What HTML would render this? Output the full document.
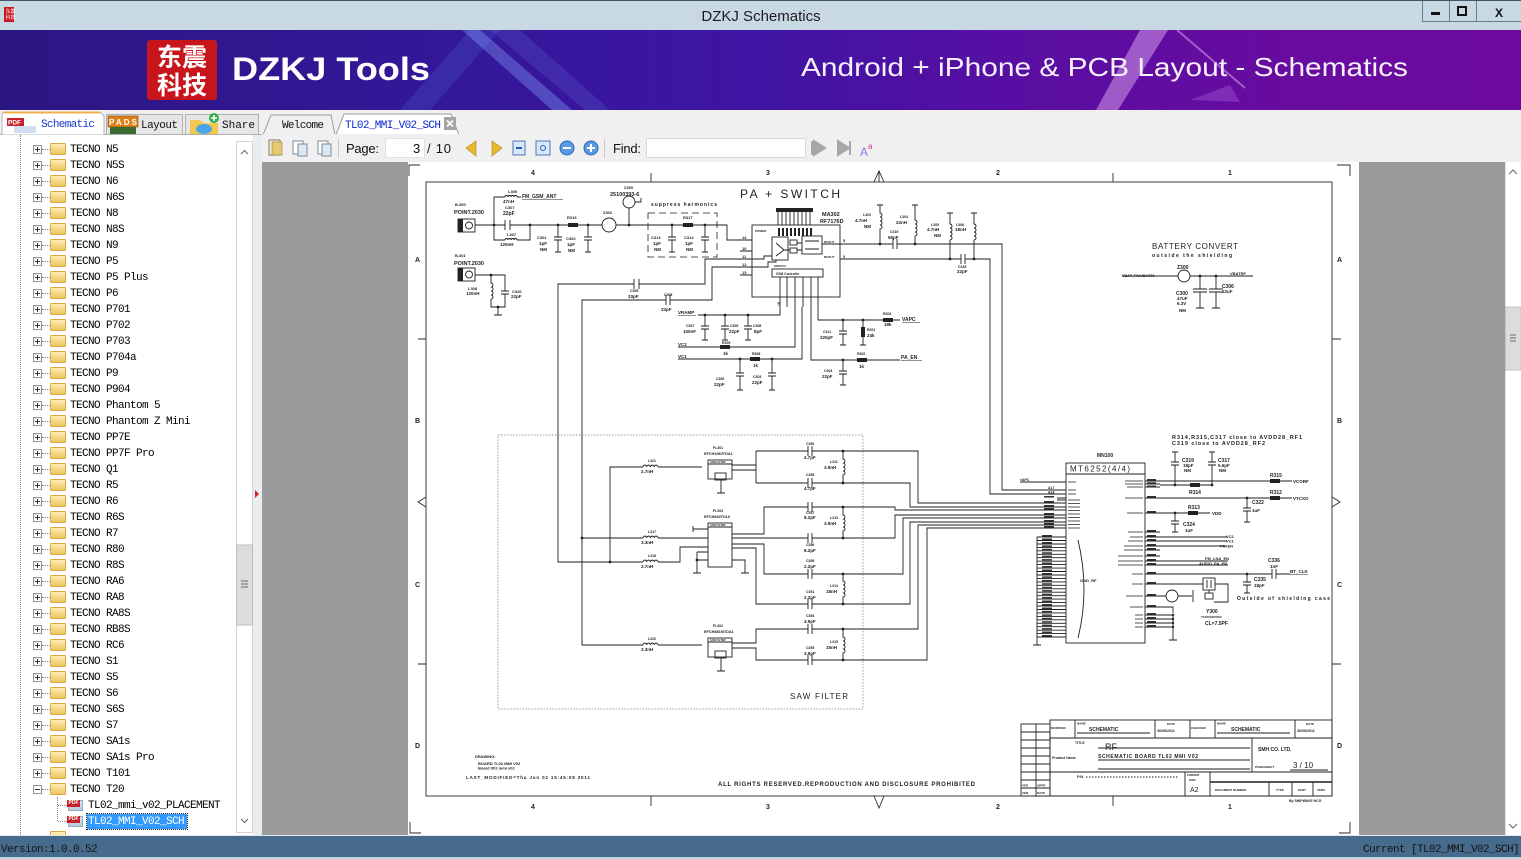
<!DOCTYPE html>
<html><head><meta charset="utf-8">
<style>
*{margin:0;padding:0;box-sizing:border-box}
body{width:1521px;height:859px;overflow:hidden;background:#f0f0f0;position:relative;font-family:"Liberation Sans",sans-serif}
.a{position:absolute}
.r{position:absolute;left:0;width:236px;height:16px}
.pb{position:absolute;left:33px;top:4px;width:9px;height:9px;border:1px solid #929292;background:#fff}
.pb::before{content:"";position:absolute;left:1px;top:3px;width:5px;height:1px;background:#333}
.pb.p::after{content:"";position:absolute;left:3px;top:1px;width:1px;height:5px;background:#333}
.dl{position:absolute;left:42px;top:8px;width:8px;border-top:1px dotted #888}
.fd{position:absolute;left:50px;top:2px;width:16px;height:12px;background:linear-gradient(#fdeeb8,#efc45e);border:1px solid #d8ab44;border-radius:1px}
.tx{position:absolute;left:70px;top:1px;font:11px/16px "Liberation Mono",monospace;letter-spacing:-0.6px;color:#000;white-space:pre}
.pdf{position:absolute;left:68px;top:3px;width:15px;height:11px;background:linear-gradient(#d9e6f3,#b7cce0);border:1px solid #9ab}
.pdf::before{content:"PDF";position:absolute;left:-2px;top:-1px;width:13px;height:7px;background:#c8202a;color:#fff;font:bold 5px/7px "Liberation Sans";text-align:center}
</style></head><body>

<!-- Title bar -->
<div class="a" style="left:0;top:0;width:1521px;height:30px;background:#c8d9e3;border-top:1px solid #42576a"></div>
<svg class="a" style="left:0;top:0" width="1521" height="30">
<rect x="4" y="7" width="10" height="15" fill="#c8161d"/>
<text x="5.5" y="13" font-size="5" fill="#fff" font-family="Noto Sans CJK SC,sans-serif">东震</text>
<text x="5.5" y="19" font-size="5" fill="#fff" font-family="Noto Sans CJK SC,sans-serif">科技</text>
<text x="761" y="21" font-size="15" fill="#1c1c1c" text-anchor="middle" font-family="Liberation Sans,sans-serif">DZKJ Schematics</text>
<path d="M1422.5,1V21.5H1521M1449.5,1V21.5M1476.5,1V21.5" stroke="#6a7a86" fill="none"/>
<rect x="1431" y="12" width="9" height="3" fill="#111"/>
<rect x="1458" y="7" width="8" height="8" fill="none" stroke="#111" stroke-width="2"/>
<text x="1499" y="17" font-size="12" font-weight="bold" fill="#111" text-anchor="middle" font-family="Liberation Sans,sans-serif">X</text>
</svg>

<!-- Banner -->
<svg class="a" style="left:0;top:30px" width="1521" height="80">
<defs><linearGradient id="bg" x1="0" x2="1" y1="0" y2="0">
<stop offset="0" stop-color="#2c1682"/><stop offset="0.3" stop-color="#33189a"/><stop offset="0.5" stop-color="#3f14a2"/><stop offset="0.68" stop-color="#5a0ea2"/><stop offset="0.85" stop-color="#680b9f"/><stop offset="1" stop-color="#6c0b9e"/></linearGradient></defs>
<rect width="1521" height="80" fill="url(#bg)"/>
<polygon points="400,80 470,0 500,0 430,80" fill="#4a60d8" opacity="0.25"/>
<polygon points="462,0 480,0 572,80 552,80" fill="#8aa8ff" opacity="0.35"/>
<polygon points="490,0 520,0 610,80 585,80" fill="#6d86f0" opacity="0.18"/>
<polygon points="1140,0 1168,0 1118,80 1096,80" fill="#e0a8f4" opacity="0.5"/>
<line x1="1177" y1="0" x2="1245" y2="58" stroke="#d8a0f0" stroke-width="2" opacity="0.55"/>
<polygon points="1190,70 1230,55 1240,72" fill="#b070e0" opacity="0.35"/>
<rect x="147" y="10" width="70" height="60" rx="3" fill="#c8151c"/>
<text x="182" y="36" font-size="25" font-weight="bold" fill="#fff" text-anchor="middle" font-family="Noto Sans CJK SC,sans-serif">东震</text>
<text x="182" y="64" font-size="25" font-weight="bold" fill="#fff" text-anchor="middle" font-family="Noto Sans CJK SC,sans-serif">科技</text>
<text x="232" y="50" font-size="32" font-weight="bold" fill="#fff" textLength="198" lengthAdjust="spacingAndGlyphs" font-family="Liberation Sans,sans-serif">DZKJ Tools</text>
<text x="801" y="46" font-size="26" fill="#f6f0fb" textLength="607" lengthAdjust="spacingAndGlyphs" font-family="Liberation Sans,sans-serif">Android + iPhone &amp; PCB Layout - Schematics</text>
</svg>

<!-- Tab row -->
<svg class="a" style="left:0;top:110px" width="1521" height="26" font-family="Liberation Mono,monospace">
<rect width="1521" height="26" fill="#f0f0f0"/>
<path d="M0,24.5H1521" stroke="#a8a8a8"/>
<path d="M2,25V5Q2,2 5,2H100L104,6V25Z" fill="#fff" stroke="#b5b5b5"/>
<path d="M4,2.5H100" stroke="#f0b048" stroke-width="2"/>
<rect x="3" y="25" width="100" height="2" fill="#fff"/>
<rect x="106.5" y="4.5" width="76" height="20" fill="#e6e6e6" stroke="#b0b0b0"/>
<rect x="185.5" y="4.5" width="73" height="20" fill="#e6e6e6" stroke="#b0b0b0"/>
<rect x="7" y="8" width="17" height="8" fill="#c8202a"/><text x="8" y="14.5" font-size="6.5" fill="#fff" font-family="Liberation Sans" font-weight="bold">PDF</text>
<rect x="14" y="16" width="22" height="7" fill="#cfdff0"/>
<text x="41" y="17" font-size="11" fill="#1836c8" textLength="54">Schematic</text>
<rect x="108" y="6" width="30" height="11" fill="#e0801a" stroke="#7a4a10" stroke-width="0.6"/><text x="109" y="15" font-size="8" fill="#fff" font-family="Liberation Sans" font-weight="bold" textLength="28">PADS</text>
<rect x="110" y="17" width="26" height="7" fill="#3a6a30"/>
<text x="141" y="18" font-size="11" fill="#111" textLength="37">Layout</text>
<path d="M190,10H200L203,13H218V24H190Z" fill="#f4c74e"/>
<ellipse cx="204" cy="19" rx="8" ry="5" fill="#4aa6e8"/>
<circle cx="214" cy="8" r="5" fill="#2fb04a"/><path d="M214,5V11M211,8H217" stroke="#fff" stroke-width="1.6"/>
<text x="222" y="18" font-size="11" fill="#111" textLength="33">Share</text>
<path d="M263,25L271,5H331L335,25" fill="#f0f0f0" stroke="#9a9a9a"/>
<text x="282" y="18" font-size="11" fill="#111" textLength="42">Welcome</text>
<path d="M336,25L344,4H451L459,25" fill="#fff" stroke="#9a9a9a"/>
<rect x="337" y="24" width="121" height="2" fill="#fff"/>
<text x="345" y="18" font-size="11" fill="#0a28cc" textLength="96">TL02_MMI_V02_SCH</text>
<rect x="444" y="7" width="12" height="13" fill="#a4a4a4"/>
<path d="M447,10.5L453,16.5M453,10.5L447,16.5" stroke="#fff" stroke-width="1.6"/>
</svg>

<!-- Toolbar -->
<svg class="a" style="left:262px;top:134px" width="1259" height="28" viewBox="262 134 1259 28" font-family="Liberation Sans,sans-serif">
<rect x="262" y="134" width="1259" height="28" fill="#f0f0f0"/>
<rect x="269" y="140" width="11" height="15" fill="#f5f0e0" stroke="#8a7a50"/><rect x="272" y="142" width="10" height="13" fill="#e8c870" stroke="#8a7a50" stroke-width="0.6"/>
<rect x="293" y="141" width="10" height="13" fill="#fff" stroke="#7a8a9a"/><rect x="298" y="144" width="9" height="12" fill="#dde8f0" stroke="#7a8a9a"/>
<rect x="318" y="141" width="10" height="13" fill="#fff" stroke="#7a8a9a"/><rect x="322" y="144" width="9" height="12" fill="#dde8f0" stroke="#7a8a9a"/>
<path d="M338.5,139V158M604.5,139V158" stroke="#c8c8c8"/>
<text x="346" y="153" font-size="13" fill="#111" textLength="33">Page:</text>
<rect x="385.5" y="138.5" width="39" height="19" fill="#fff" stroke="#e0e0e0"/>
<text x="413" y="153" font-size="13" fill="#111">3</text>
<text x="427" y="153" font-size="13" fill="#111" textLength="24">/ 10</text>
<path d="M476,141L466,148L476,156Z" fill="#e8b830" stroke="#b08410" stroke-width="0.6"/>
<path d="M492,141L502,148L492,156Z" fill="#e8b830" stroke="#b08410" stroke-width="0.6"/>
<rect x="513" y="141" width="12" height="14" fill="#d8e8f8" stroke="#4a7ac0"/><path d="M516,148H522" stroke="#2a5ab0" stroke-width="2"/>
<rect x="536" y="141" width="14" height="14" fill="#d8e8f8" stroke="#4a7ac0"/><circle cx="543" cy="148" r="2.5" fill="none" stroke="#2a5ab0"/>
<circle cx="567" cy="148" r="7" fill="#5a9ae0" stroke="#2a6ab8"/><path d="M563,148H571" stroke="#fff" stroke-width="2"/>
<circle cx="591" cy="148" r="7" fill="#5a9ae0" stroke="#2a6ab8"/><path d="M587,148H595M591,144V152" stroke="#fff" stroke-width="2"/>
<text x="613" y="153" font-size="13" fill="#111" textLength="28">Find:</text>
<rect x="646.5" y="138.5" width="159" height="19" fill="#fff" stroke="#d8d8d8"/>
<path d="M812,141V155M814,141V155L825,148Z" fill="#a8a8a8" stroke="#a8a8a8" stroke-width="2"/>
<path d="M838,141L849,148L838,155ZM850,141V155" fill="#a8a8a8" stroke="#a8a8a8" stroke-width="2"/>
<text x="860" y="156" font-size="12" fill="#8a7ae0">A</text><text x="868" y="149" font-size="8" fill="#d0309a">a</text>
</svg>

<!-- Left panel -->
<div class="a" style="left:0;top:135px;width:253px;height:700px;background:#fff;overflow:hidden">
<div class="a" style="left:20px;top:0;height:700px;border-left:1px dotted #888"></div>
<div class="a" style="left:57px;top:662px;height:24px;border-left:1px dotted #888"></div>
</div>
<div class="a" style="left:0;top:0;width:236px;height:835px;overflow:hidden">
<div class="r" style="top:141px"><i class="pb p"></i><i class="dl"></i><i class="fd"></i><span class="tx">TECNO N5</span></div>
<div class="r" style="top:157px"><i class="pb p"></i><i class="dl"></i><i class="fd"></i><span class="tx">TECNO N5S</span></div>
<div class="r" style="top:173px"><i class="pb p"></i><i class="dl"></i><i class="fd"></i><span class="tx">TECNO N6</span></div>
<div class="r" style="top:189px"><i class="pb p"></i><i class="dl"></i><i class="fd"></i><span class="tx">TECNO N6S</span></div>
<div class="r" style="top:205px"><i class="pb p"></i><i class="dl"></i><i class="fd"></i><span class="tx">TECNO N8</span></div>
<div class="r" style="top:221px"><i class="pb p"></i><i class="dl"></i><i class="fd"></i><span class="tx">TECNO N8S</span></div>
<div class="r" style="top:237px"><i class="pb p"></i><i class="dl"></i><i class="fd"></i><span class="tx">TECNO N9</span></div>
<div class="r" style="top:253px"><i class="pb p"></i><i class="dl"></i><i class="fd"></i><span class="tx">TECNO P5</span></div>
<div class="r" style="top:269px"><i class="pb p"></i><i class="dl"></i><i class="fd"></i><span class="tx">TECNO P5 Plus</span></div>
<div class="r" style="top:285px"><i class="pb p"></i><i class="dl"></i><i class="fd"></i><span class="tx">TECNO P6</span></div>
<div class="r" style="top:301px"><i class="pb p"></i><i class="dl"></i><i class="fd"></i><span class="tx">TECNO P701</span></div>
<div class="r" style="top:317px"><i class="pb p"></i><i class="dl"></i><i class="fd"></i><span class="tx">TECNO P702</span></div>
<div class="r" style="top:333px"><i class="pb p"></i><i class="dl"></i><i class="fd"></i><span class="tx">TECNO P703</span></div>
<div class="r" style="top:349px"><i class="pb p"></i><i class="dl"></i><i class="fd"></i><span class="tx">TECNO P704a</span></div>
<div class="r" style="top:365px"><i class="pb p"></i><i class="dl"></i><i class="fd"></i><span class="tx">TECNO P9</span></div>
<div class="r" style="top:381px"><i class="pb p"></i><i class="dl"></i><i class="fd"></i><span class="tx">TECNO P904</span></div>
<div class="r" style="top:397px"><i class="pb p"></i><i class="dl"></i><i class="fd"></i><span class="tx">TECNO Phantom 5</span></div>
<div class="r" style="top:413px"><i class="pb p"></i><i class="dl"></i><i class="fd"></i><span class="tx">TECNO Phantom Z Mini</span></div>
<div class="r" style="top:429px"><i class="pb p"></i><i class="dl"></i><i class="fd"></i><span class="tx">TECNO PP7E</span></div>
<div class="r" style="top:445px"><i class="pb p"></i><i class="dl"></i><i class="fd"></i><span class="tx">TECNO PP7F Pro</span></div>
<div class="r" style="top:461px"><i class="pb p"></i><i class="dl"></i><i class="fd"></i><span class="tx">TECNO Q1</span></div>
<div class="r" style="top:477px"><i class="pb p"></i><i class="dl"></i><i class="fd"></i><span class="tx">TECNO R5</span></div>
<div class="r" style="top:493px"><i class="pb p"></i><i class="dl"></i><i class="fd"></i><span class="tx">TECNO R6</span></div>
<div class="r" style="top:509px"><i class="pb p"></i><i class="dl"></i><i class="fd"></i><span class="tx">TECNO R6S</span></div>
<div class="r" style="top:525px"><i class="pb p"></i><i class="dl"></i><i class="fd"></i><span class="tx">TECNO R7</span></div>
<div class="r" style="top:541px"><i class="pb p"></i><i class="dl"></i><i class="fd"></i><span class="tx">TECNO R80</span></div>
<div class="r" style="top:557px"><i class="pb p"></i><i class="dl"></i><i class="fd"></i><span class="tx">TECNO R8S</span></div>
<div class="r" style="top:573px"><i class="pb p"></i><i class="dl"></i><i class="fd"></i><span class="tx">TECNO RA6</span></div>
<div class="r" style="top:589px"><i class="pb p"></i><i class="dl"></i><i class="fd"></i><span class="tx">TECNO RA8</span></div>
<div class="r" style="top:605px"><i class="pb p"></i><i class="dl"></i><i class="fd"></i><span class="tx">TECNO RA8S</span></div>
<div class="r" style="top:621px"><i class="pb p"></i><i class="dl"></i><i class="fd"></i><span class="tx">TECNO RB8S</span></div>
<div class="r" style="top:637px"><i class="pb p"></i><i class="dl"></i><i class="fd"></i><span class="tx">TECNO RC6</span></div>
<div class="r" style="top:653px"><i class="pb p"></i><i class="dl"></i><i class="fd"></i><span class="tx">TECNO S1</span></div>
<div class="r" style="top:669px"><i class="pb p"></i><i class="dl"></i><i class="fd"></i><span class="tx">TECNO S5</span></div>
<div class="r" style="top:685px"><i class="pb p"></i><i class="dl"></i><i class="fd"></i><span class="tx">TECNO S6</span></div>
<div class="r" style="top:701px"><i class="pb p"></i><i class="dl"></i><i class="fd"></i><span class="tx">TECNO S6S</span></div>
<div class="r" style="top:717px"><i class="pb p"></i><i class="dl"></i><i class="fd"></i><span class="tx">TECNO S7</span></div>
<div class="r" style="top:733px"><i class="pb p"></i><i class="dl"></i><i class="fd"></i><span class="tx">TECNO SA1s</span></div>
<div class="r" style="top:749px"><i class="pb p"></i><i class="dl"></i><i class="fd"></i><span class="tx">TECNO SA1s Pro</span></div>
<div class="r" style="top:765px"><i class="pb p"></i><i class="dl"></i><i class="fd"></i><span class="tx">TECNO T101</span></div>
<div class="r" style="top:781px"><i class="pb"></i><i class="dl"></i><i class="fd"></i><span class="tx">TECNO T20</span></div>
<div class="r" style="top:797px"><i class="a" style="left:58px;top:8px;width:9px;border-top:1px dotted #888"></i><i class="pdf"></i><span class="tx" style="left:88px">TL02_mmi_v02_PLACEMENT</span></div>
<div class="r" style="top:813px"><i class="a" style="left:58px;top:8px;width:9px;border-top:1px dotted #888"></i><i class="pdf"></i><span class="a" style="left:87px;top:1px;width:100px;height:15px;background:#3399ff;outline:1px dotted #222"></span><span class="tx" style="left:88px;color:#fff">TL02_MMI_V02_SCH</span></div>
<div class="r" style="top:829px"><i class="fd"></i></div>
</div>
<!-- left scrollbar -->
<div class="a" style="left:236px;top:141px;width:17px;height:692px;background:#fff;border:1px solid #d4d4d4"></div>
<svg class="a" style="left:236px;top:141px" width="17" height="692">
<path d="M5,13L8.5,9.5L12,13M5,678L8.5,681.5L12,678" stroke="#666" fill="none"/>
<rect x="0.5" y="404" width="16" height="80" fill="#dcdcdc" stroke="#bdbdbd"/>
<path d="M5,440H12M5,443H12M5,446H12" stroke="#666"/>
</svg>
<!-- splitter -->
<div class="a" style="left:253px;top:135px;width:9px;height:701px;background:#e9edf0"></div>
<svg class="a" style="left:253px;top:489px" width="9" height="10"><path d="M2,1L6,5L2,9Z" fill="#d8202a"/></svg>

<!-- Viewer -->
<div class="a" style="left:262px;top:162px;width:1243px;height:673px;background:#9b9b9b"></div>
<div class="a" style="left:1505px;top:162px;width:16px;height:673px;background:#fff;border-left:1px solid #e0e0e0"></div>
<svg class="a" style="left:1505px;top:162px" width="16" height="673">
<path d="M4,12L8,8L12,12M4,662L8,666L12,662" stroke="#666" fill="none"/>
<rect x="0.5" y="145" width="15.5" height="63" fill="#dcdcdc" stroke="#c4c4c4"/>
<path d="M5,173H11M5,176H11M5,179H11" stroke="#666"/>
</svg>

<!-- Schematic page -->
<svg class="a" style="left:408px;top:162px" width="951" height="673" viewBox="408 162 951 673" font-family="Liberation Sans,sans-serif">
<rect x="408" y="162" width="951" height="673" fill="#fff"/>
<g fill="none" stroke="#2a2a2a" stroke-width="0.9">
<path d="M409,176V165H420M1337,165H1350V176M410,822V833H421M1339,833H1350V822"/>
<rect x="426" y="182" width="906" height="614"/>
<path d="M651,173V182M1113,173V182M874,182L879,171L884,182M879,171V182"/>
<path d="M651,796V806M1113,796V806M874,796L879,808L884,796"/>
<path d="M418,339H426M418,664H426M426,497L418,502L426,507M1332,339H1341M1332,664H1341M1332,497L1340,502L1332,507"/>
</g>
<g font-size="7" fill="#222" font-weight="bold">
<text x="531" y="175">4</text><text x="766" y="175">3</text><text x="996" y="175">2</text><text x="1228" y="175">1</text>
<text x="531" y="809">4</text><text x="766" y="809">3</text><text x="996" y="809">2</text><text x="1228" y="809">1</text>
<text x="415" y="262">A</text><text x="415" y="423">B</text><text x="415" y="587">C</text><text x="415" y="748">D</text>
<text x="1337" y="262">A</text><text x="1337" y="423">B</text><text x="1337" y="587">C</text><text x="1337" y="748">D</text>
</g>

<!-- wires -->
<g fill="none" stroke="#1e1e1e" stroke-width="0.9">
<rect x="458" y="219" width="17" height="13"/>
<rect x="458" y="268" width="17" height="13"/>
<circle cx="469" cy="225.5" r="3.5"/><circle cx="469" cy="274.5" r="3.5"/>
<path d="M475,225H505M510,225H602M616,225H727V240H752M505,220V230M510,220V230"/>
<circle cx="609" cy="225" r="7"/>
<path d="M494,225V197H505M517,197H521M505,197a1.5,1.5 0 0 1 3,0a1.5,1.5 0 0 1 3,0a1.5,1.5 0 0 1 3,0a1.5,1.5 0 0 1 3,0"/>
<path d="M494,225V240H505M517,240H530V225M505,240a1.5,1.5 0 0 1 3,0a1.5,1.5 0 0 1 3,0a1.5,1.5 0 0 1 3,0a1.5,1.5 0 0 1 3,0"/>
<path d="M475,275H505V291M501,291H509M501,294H509M505,294V307H491V299M491,275V283a2,2 0 0 1 0,4a2,2 0 0 1 0,4a2,2 0 0 1 0,4a2,2 0 0 1 0,4M498,307V315M494,315H502"/>
<path d="M558,225V237M554,237H562M554,240H562M558,240V252M555,252H561"/>
<path d="M588,225V237M584,237H592M584,240H592M588,240V252M585,252H591"/>
<path d="M672,225V237M668,237H676M668,240H676M672,240V252M669,252H675"/>
<path d="M705,225V237M701,237H709M701,240H709M705,240V252M702,252H708"/>
<circle cx="629" cy="202" r="6"/><path d="M629,208V225M635,202H641V198"/>
<rect x="648" y="213" width="69" height="44" stroke-dasharray="7,4" stroke-width="0.8"/>
<!-- chip -->
<rect x="752" y="225" width="88" height="72"/>
<path d="M778,212V225M782,212V225M786,212V225M790,212V225M794,212V225M798,212V225M802,212V225M806,212V225M810,212V225"/>
<rect x="772" y="237" width="16" height="23"/><path d="M776,243L784,250M776,256L784,250M784,250H790"/>
<rect x="790" y="240" width="7" height="5"/><rect x="790" y="248" width="7" height="5"/>
<rect x="802" y="236" width="20" height="18"/><path d="M805,241H819M805,249H819M822,244H840M797,243H802M797,250H802"/>
<rect x="772" y="269" width="51" height="8"/>
<path d="M740,240H752M740,251H752M740,259H752M740,267H752M740,275H752M840,244H852M840,259H852M752,259H764V256H772M752,267H768V262H776V260"/>
<path d="M780,277V307M787,277V307M795,277V307M803,277V307M811,277V307M818,277V307"/>
<!-- pin5/3 outputs -->
<path d="M852,244H893M897,244H1002V490H1066M893,239V249M897,239V249"/>
<path d="M852,259H961M965,259H990V494H1066M961,254V264M965,254V264"/>
<path d="M880,205V213a2,2 0 0 1 0,4a2,2 0 0 1 0,4a2,2 0 0 1 0,4a2,2 0 0 1 0,4V244M877,205H883"/>
<path d="M915,205V220a2,2 0 0 1 0,4a2,2 0 0 1 0,4a2,2 0 0 1 0,4a2,2 0 0 1 0,4V244M912,205H918"/>
<path d="M950,213V224a2,2 0 0 1 0,4a2,2 0 0 1 0,4a2,2 0 0 1 0,4a2,2 0 0 1 0,4V259M947,213H953"/>
<path d="M974,213V224a2,2 0 0 1 0,4a2,2 0 0 1 0,4a2,2 0 0 1 0,4a2,2 0 0 1 0,4V259M971,213H977"/>
<!-- pin 11 / 12 -->
<path d="M740,259H705V284H639M634,284H558V562H643M658,562H680V547H708M634,279V289M639,279V289"/>
<path d="M740,267H712V300H670M666,300H582V645H643M658,645H702M666,295V305M670,295V305"/>
<path d="M582,538H643M658,538H708M610,562V467H643M658,467H702"/>
<path d="M643,467a1.875,1.875 0 0 1 3.75,0a1.875,1.875 0 0 1 3.75,0a1.875,1.875 0 0 1 3.75,0a1.875,1.875 0 0 1 3.75,0"/>
<path d="M643,538a1.875,1.875 0 0 1 3.75,0a1.875,1.875 0 0 1 3.75,0a1.875,1.875 0 0 1 3.75,0a1.875,1.875 0 0 1 3.75,0"/>
<path d="M643,562a1.875,1.875 0 0 1 3.75,0a1.875,1.875 0 0 1 3.75,0a1.875,1.875 0 0 1 3.75,0a1.875,1.875 0 0 1 3.75,0"/>
<path d="M643,645a1.875,1.875 0 0 1 3.75,0a1.875,1.875 0 0 1 3.75,0a1.875,1.875 0 0 1 3.75,0a1.875,1.875 0 0 1 3.75,0"/>
<!-- bottom pins -->
<path d="M780,307V315H698"/>
<path d="M705,315V326M701,326H709M701,329H709M705,329V340M702,340H708"/>
<path d="M725,315V326M721,326H729M721,329H729M725,329V340M722,340H728"/>
<path d="M748,315V326M744,326H752M744,329H752M748,329V340M745,340H751"/>
<path d="M795,307V347H678M802,307V359H678"/>
<path d="M740,359V373M736,373H744M736,376H744M740,376V390M737,390H743"/>
<path d="M772,359V373M768,373H776M768,376H776M772,376V390M769,390H775"/>
<path d="M811,307V360H900M818,307V320H900"/>
<path d="M843,320V331M839,331H847M839,334H847M843,334V345M840,345H846"/>
<path d="M863,320V345M860,345H866"/>
<path d="M843,360V371M839,371H847M839,374H847M843,374V385M840,385H846"/>
<!-- battery -->
<path d="M1122,276H1178M1190,276H1253"/><circle cx="1184" cy="276" r="6"/>
<path d="M1200,276V289M1193,289H1207M1193,292H1207M1200,292V308M1196,308H1204"/>
<path d="M1216,276V289M1209,289H1223M1209,292H1223M1216,292V308M1212,308H1220"/>
<!-- SAW -->
<rect x="498" y="435" width="365" height="274" stroke="#777" stroke-width="0.7" stroke-dasharray="1.5,1.5"/>
<rect x="708" y="460" width="24" height="19"/><path d="M708,464H732"/><rect x="715" y="473" width="11" height="7"/><path d="M721,480V493M717,493H725"/>
<rect x="708" y="523" width="24" height="44"/><path d="M708,527H732"/>
<rect x="708" y="638" width="24" height="19"/><path d="M708,642H732"/><rect x="715" y="651" width="11" height="7"/><path d="M721,658V671M717,671H725"/>
<path d="M693,529H708M693,526V532M697,552H708M697,560H708M697,552V573M693,573H701M732,560H745V573M741,573H749"/>
<path d="M732,465H756M732,470H756M756,451V483"/>
<path d="M756,451H808M812,451H918V503H1066M808,446V456M812,446V456"/>
<path d="M756,483H808M812,483H910V507H1066M808,478V488M812,478V488"/>
<path d="M732,534H764V507H808M812,507H895V510H1066M808,502V512M812,502V512"/>
<path d="M732,538H808M812,538H895V515H1066M808,533V543M812,533V543"/>
<path d="M732,544H764V574H808M812,574H903V518H1066M808,569V579M812,569V579"/>
<path d="M732,548H756V604H808M812,604H910V522H1066M808,599V609M812,599V609"/>
<path d="M732,643H756V629H808M812,629H918V525H1066M808,624V634M812,624V634"/>
<path d="M732,648H756V660H808M812,660H927V528H1066M808,655V665M812,655V665"/>
<path d="M843,451V459a2,2 0 0 1 0,4a2,2 0 0 1 0,4a2,2 0 0 1 0,4a2,2 0 0 1 0,4V483"/>
<path d="M843,507V515a2,2 0 0 1 0,4a2,2 0 0 1 0,4a2,2 0 0 1 0,4a2,2 0 0 1 0,4V538"/>
<path d="M843,574V581a2,2 0 0 1 0,4a2,2 0 0 1 0,4a2,2 0 0 1 0,4a2,2 0 0 1 0,4V604"/>
<path d="M843,629V637a2,2 0 0 1 0,4a2,2 0 0 1 0,4a2,2 0 0 1 0,4a2,2 0 0 1 0,4V660"/>
<!-- MT6252 -->
<rect x="1066" y="463" width="79" height="180"/><path d="M1066,474H1145"/>
<path d="M1020,482H1066M1057,498H1066M1057,500H1066"/>
<path d="M1037,537V645M1033,645H1041M1037,537H1066M1037,540.5H1066M1037,544H1066M1037,547.4H1066M1037,550.8H1066M1037,554.3H1066M1037,557.7H1066M1037,561.2H1066M1037,564.6H1066M1037,568.1H1066M1037,571.5H1066M1037,575H1066M1037,578.4H1066M1037,581.9H1066M1037,585.3H1066M1037,588.8H1066M1037,592.2H1066M1037,595.7H1066M1037,599.1H1066M1037,602.6H1066M1037,606H1066M1037,609.5H1066M1037,612.9H1066M1037,616.4H1066M1037,619.8H1066M1037,623.3H1066M1037,626.7H1066M1037,630.2H1066M1037,633.6H1066M1037,637H1066"/>
<path d="M1078,540Q1090,590 1078,638"/>
<path d="M1145,481H1292M1145,484H1160M1145,487H1160M1160,485H1212M1175,452V462M1171,462H1179M1171,465H1179M1175,465V485M1212,452V462M1208,462H1216M1208,465H1216M1212,465V485M1172,452H1178M1209,452H1215"/>
<path d="M1145,498H1292M1247,498V508M1243,508H1251M1243,511H1251M1247,511V522M1244,522H1250"/>
<path d="M1145,513H1210M1175,513V521M1171,521H1179M1171,524H1179M1175,524V532M1172,532H1178"/>
<path d="M1145,532H1160M1145,537H1227M1145,541H1227M1145,546H1227M1145,550H1160M1145,556H1160M1145,561H1228M1145,565H1228"/>
<path d="M1145,574H1272M1276,574H1290M1272,569V579M1276,569V579M1247,574V582M1243,582H1251M1243,585H1251M1247,585V593M1244,593H1250"/>
<path d="M1145,584H1203M1215,584H1228V602H1214M1209,590V593"/><rect x="1203" y="578" width="12" height="12"/><path d="M1207,580V588M1211,580V588"/><rect x="1205" y="593" width="8" height="6"/>
<path d="M1145,596H1166M1178,596H1192M1193,590V602"/><circle cx="1172" cy="596" r="6"/>
<path d="M1145,607H1173V613M1145,615H1173M1145,619H1173M1145,623H1173M1145,627H1173M1173,615V640M1169,640H1177"/>
<!-- title block -->
<rect x="1021" y="724" width="29" height="72"/>
<path d="M1036,724V796M1021,732H1050M1021,740H1050M1021,748H1050M1021,756H1050M1021,764H1050M1021,772H1050M1021,780H1050M1021,788H1050"/>
<rect x="1050" y="720" width="282" height="76"/>
<path d="M1050,738H1332M1050,772H1332M1075,720V738M1155,720V738M1190,720V738M1215,720V738M1295,720V738M1252,738V772"/>
<path d="M1077,733H1150M1217,733H1290M1098,748H1250M1098,760H1250M1098,769H1250M1290,770H1328"/>
<path d="M1185,772V796M1210,772V796M1269,782V796M1292,782V796M1313,782V796"/>
<path d="M1210,782H1332" stroke-width="1.6"/>
<path d="M1086,777H1178" stroke-dasharray="1.5,1.5"/>
</g>
<!-- filled bits -->
<g fill="#222">
<rect x="458" y="219" width="5" height="13"/><rect x="458" y="268" width="5" height="13"/>
<rect x="568" y="223" width="10" height="4"/><rect x="683" y="223" width="10" height="4"/>
<rect x="776" y="208" width="37" height="4"/>
<rect x="778" y="228" width="2" height="8"/><rect x="782" y="228" width="2" height="8"/><rect x="786" y="228" width="2" height="8"/><rect x="790" y="228" width="2" height="8"/><rect x="794" y="228" width="2" height="8"/><rect x="798" y="228" width="2" height="8"/><rect x="802" y="228" width="2" height="8"/><rect x="806" y="228" width="2" height="8"/><rect x="810" y="228" width="2" height="8"/>
<rect x="720" y="345" width="10" height="4"/><rect x="750" y="357" width="10" height="4"/><rect x="857" y="358" width="10" height="4"/>
<rect x="861" y="327" width="4" height="10"/><rect x="883" y="318" width="10" height="4"/>
<rect x="1270" y="479" width="10" height="4"/><rect x="1190" y="483" width="10" height="4"/><rect x="1270" y="496" width="10" height="4"/><rect x="1188" y="511" width="10" height="4"/>
<circle cx="494" cy="225" r="1.4"/><circle cx="530" cy="225" r="1.4"/><circle cx="558" cy="225" r="1.4"/><circle cx="588" cy="225" r="1.4"/><circle cx="629" cy="225" r="1.4"/><circle cx="672" cy="225" r="1.4"/><circle cx="705" cy="225" r="1.4"/><circle cx="491" cy="275" r="1.4"/><circle cx="498" cy="307" r="1.4"/>
<circle cx="880" cy="244" r="1.4"/><circle cx="915" cy="244" r="1.4"/><circle cx="950" cy="259" r="1.4"/><circle cx="974" cy="259" r="1.4"/>
<circle cx="705" cy="315" r="1.4"/><circle cx="725" cy="315" r="1.4"/><circle cx="748" cy="315" r="1.4"/><circle cx="740" cy="359" r="1.4"/><circle cx="772" cy="359" r="1.4"/><circle cx="843" cy="320" r="1.4"/><circle cx="863" cy="320" r="1.4"/><circle cx="843" cy="360" r="1.4"/>
<circle cx="1200" cy="276" r="1.4"/><circle cx="1216" cy="276" r="1.4"/>
<circle cx="582" cy="538" r="1.4"/><circle cx="610" cy="562" r="1.4"/><circle cx="697" cy="560" r="1.4"/>
<circle cx="843" cy="451" r="1.4"/><circle cx="843" cy="483" r="1.4"/><circle cx="843" cy="507" r="1.4"/><circle cx="843" cy="538" r="1.4"/><circle cx="843" cy="574" r="1.4"/><circle cx="843" cy="604" r="1.4"/><circle cx="843" cy="629" r="1.4"/><circle cx="843" cy="660" r="1.4"/>
<circle cx="1175" cy="485" r="1.4"/><circle cx="1212" cy="485" r="1.4"/><circle cx="1247" cy="498" r="1.4"/><circle cx="1175" cy="513" r="1.4"/><circle cx="1247" cy="574" r="1.4"/><circle cx="1173" cy="615" r="1.2"/><circle cx="1173" cy="619" r="1.2"/><circle cx="1173" cy="623" r="1.2"/><circle cx="1173" cy="627" r="1.2"/>
</g>
<g stroke="#333" stroke-width="1.5" fill="none">
<path d="M1042,535.7h10M1042,539.2h10M1042,542.7h10M1042,546.1h10M1042,549.5h10M1042,553h10M1042,556.4h10M1042,559.9h10M1042,563.3h10M1042,566.8h10M1042,570.2h10M1042,573.7h10M1042,577.1h10M1042,580.6h10M1042,584h10M1042,587.5h10M1042,590.9h10M1042,594.4h10M1042,597.8h10M1042,601.3h10M1042,604.7h10M1042,608.2h10M1042,611.6h10M1042,615.1h10M1042,618.5h10M1042,622h10M1042,625.4h10M1042,628.9h10M1042,632.3h10M1042,635.7h10"/>
<path d="M1044,496.7h10M1044,501.7h10M1044,505.7h10M1044,508.7h10M1044,513.7h10M1044,516.7h10M1044,520.7h10M1044,523.7h10M1044,526.7h10"/>
<path d="M1147,479.8h9M1147,483h9M1147,486.2h9M1147,496.8h9M1147,511.8h9M1147,530.8h9M1147,535.8h9M1147,539.8h9M1147,544.8h9M1147,548.8h9M1147,554.8h9M1147,559.8h9M1147,563.8h9M1147,572.8h9M1147,582.8h9M1147,594.8h9M1147,605.8h9M1147,613.8h9M1147,617.8h9M1147,621.8h9M1147,625.8h9"/>
</g>
<g stroke="#555" stroke-width="1" fill="none">
<path d="M1125,481h18M1125,484h18M1127,487h16M1125,498h18M1127,513h16M1128,532h15M1130,537h13M1128,541h15M1124,546h19M1124,550h19M1118,556h25M1118,561h25M1118,565h25M1132,574h11M1132,584h11M1126,596h17M1130,607h13M1135,615h8M1135,619h8M1135,623h8M1135,627h8"/>
<path d="M1068,482h8M1068,490h8M1068,494h8M1068,500h12M1068,503.5h12M1068,507h12M1068,510.5h12M1068,514h12M1068,517.5h12M1068,521h12M1068,524.5h12M1068,528h12"/>
</g>
<!-- labels -->
<g font-size="4.5" fill="#222" font-weight="bold">
<text x="455" y="206" font-size="4">B.300</text><text x="454" y="214" font-size="5.5">POINT.2030</text>
<text x="455" y="257" font-size="4">B.301</text><text x="454" y="265" font-size="5.5">POINT.2030</text>
<text x="522" y="198" font-size="5">FM_GSM_ANT</text>
<text x="508" y="193" font-size="4">L300</text><text x="503" y="203">47nH</text>
<text x="505" y="209" font-size="4">C307</text><text x="503" y="215" font-size="5">22pF</text>
<text x="507" y="236" font-size="4">L307</text><text x="500" y="246">120nH</text>
<text x="468" y="290" font-size="4">L308</text><text x="466" y="295">120nH</text>
<text x="512" y="293" font-size="4">C320</text><text x="511" y="298">22pF</text>
<text x="537" y="239" font-size="4">C301</text><text x="539" y="245">1pF</text><text x="540" y="251">NM</text>
<text x="567" y="219" font-size="4">R316</text>
<text x="566" y="240" font-size="4">C302</text><text x="567" y="246">1pF</text><text x="568" y="252">NM</text>
<text x="603" y="214" font-size="4">Z302</text>
<text x="624" y="189" font-size="4">Z300</text><text x="610" y="196" font-size="5.5">25100393-6</text>
<text x="651" y="206" font-size="5" textLength="66">suppress harmonics</text>
<text x="651" y="239" font-size="4">C313</text><text x="653" y="245">1pF</text><text x="654" y="251">NM</text>
<text x="683" y="219" font-size="4">R317</text>
<text x="684" y="239" font-size="4">C314</text><text x="685" y="245">1pF</text><text x="686" y="251">NM</text>
<text x="822" y="216" font-size="5.5">MA302</text><text x="820" y="223" font-size="5.5">RF7176D</text>
<text x="742" y="239" font-size="4">14</text><text x="742" y="250" font-size="4">10</text><text x="742" y="258" font-size="4">11</text><text x="742" y="266" font-size="4">12</text><text x="742" y="274" font-size="4">13</text>
<text x="843" y="242" font-size="4">5</text><text x="843" y="258" font-size="4">3</text>
<text x="776" y="275" font-size="3.2">GSM Controller</text>
<text x="755" y="232" font-size="3">POWER</text><text x="774" y="267" font-size="3">SWITCH</text>
<text x="824" y="243" font-size="3">RFOUT</text><text x="824" y="258" font-size="3">RFOUT</text>
<text x="780" y="306" font-size="3.5" transform="rotate(-90 780 306)">16</text>
<text x="678" y="314">VRAMP</text>
<text x="686" y="327" font-size="3.5">C307</text><text x="683" y="333">100nF</text>
<text x="730" y="327" font-size="3.5">C309</text><text x="729" y="333">22pF</text>
<text x="753" y="327" font-size="3.5">C308</text><text x="754" y="333">8pF</text>
<text x="678" y="346">VC2</text><text x="722" y="344" font-size="3.5">R309</text><text x="723" y="355">1k</text>
<text x="678" y="358">VC1</text><text x="752" y="355" font-size="3.5">R308</text><text x="753" y="367">1k</text>
<text x="716" y="380" font-size="3.5">C300</text><text x="714" y="386">22pF</text>
<text x="753" y="378" font-size="3.5">C303</text><text x="752" y="384">22pF</text>
<text x="823" y="333" font-size="3.5">C311</text><text x="820" y="339">220pF</text>
<text x="867" y="331" font-size="3.5">R301</text><text x="867" y="337">24k</text>
<text x="883" y="315" font-size="3.5">R304</text><text x="884" y="326">18k</text>
<text x="902" y="321" font-size="5">VAPC</text>
<text x="857" y="355" font-size="3.5">R302</text><text x="859" y="368">1k</text>
<text x="824" y="372" font-size="3.5">C304</text><text x="822" y="378">22pF</text>
<text x="901" y="359" font-size="5">PA_EN</text>
<text x="630" y="292" font-size="3.5">C305</text><text x="628" y="298">33pF</text>
<text x="664" y="296" font-size="3.5">C306</text><text x="661" y="311">33pF</text>
<text x="863" y="216" font-size="3.5">L303</text><text x="855" y="222">4.7nH</text><text x="864" y="228">NM</text>
<text x="890" y="233" font-size="3.5">C319</text><text x="888" y="239">56pF</text>
<text x="900" y="218" font-size="3.5">L304</text><text x="896" y="224">22nH</text>
<text x="931" y="226" font-size="3.5">L305</text><text x="927" y="231">4.7nH</text><text x="934" y="237">NM</text>
<text x="956" y="226" font-size="3.5">L306</text><text x="955" y="231">18nH</text>
<text x="958" y="268" font-size="3.5">C318</text><text x="957" y="273">22pF</text>
<text x="1122" y="277" font-size="3.8">VBAT_PA/VBAT00</text><text x="1177" y="269" font-size="5">Z300</text><text x="1230" y="275" font-size="4">VBATRF</text>
<text x="1176" y="295" font-size="5">C300</text><text x="1177" y="300">47uF</text><text x="1177" y="305">6.3V</text><text x="1179" y="312">NM</text>
<text x="1222" y="288" font-size="5">C306</text><text x="1222" y="293">22uF</text>
<text x="648" y="462" font-size="3.5">L321</text><text x="641" y="473">2.7nH</text>
<text x="648" y="533" font-size="3.5">L317</text><text x="641" y="544">3.3nH</text>
<text x="648" y="557" font-size="3.5">L318</text><text x="641" y="568">2.7nH</text>
<text x="648" y="640" font-size="3.5">L322</text><text x="641" y="651">3.3nH</text>
<text x="713" y="449" font-size="3.5">FL301</text><text x="704" y="455" font-size="3.8">EFCH1960TDA1</text>
<text x="713" y="512" font-size="3.5">FL303</text><text x="704" y="518" font-size="3.8">EFCH840TDL6</text>
<text x="713" y="627" font-size="3.5">FL302</text><text x="704" y="633" font-size="3.8">EFCH881MTDA1</text>
<text x="710" y="463" font-size="2.6">SAW FILTER</text><text x="710" y="526" font-size="2.6">SAW FILTER</text><text x="710" y="641" font-size="2.6">SAW FILTER</text>
<text x="806" y="445" font-size="3.5">C350</text><text x="804" y="459">4.7pF</text>
<text x="830" y="463" font-size="3.5">L311</text><text x="824" y="469">3.9nH</text>
<text x="806" y="476" font-size="3.5">C358</text><text x="804" y="490">4.7pF</text>
<text x="806" y="514" font-size="3.5">C357</text><text x="804" y="519">8.2pF</text>
<text x="830" y="519" font-size="3.5">L313</text><text x="824" y="525">3.9nH</text>
<text x="806" y="546" font-size="3.5">C356</text><text x="804" y="552">8.2pF</text>
<text x="806" y="562" font-size="3.5">C359</text><text x="804" y="568">2.2pF</text>
<text x="830" y="587" font-size="3.5">L314</text><text x="826" y="593">18nH</text>
<text x="806" y="593" font-size="3.5">C351</text><text x="804" y="599">2.2pF</text>
<text x="806" y="617" font-size="3.5">C354</text><text x="804" y="623">3.9pF</text>
<text x="830" y="643" font-size="3.5">L315</text><text x="826" y="649">15nH</text>
<text x="806" y="649" font-size="3.5">C355</text><text x="804" y="655">3.9pF</text>
<text x="1097" y="457" font-size="5">MN100</text>
<text x="1020" y="481" font-size="3.5">vAPC</text><text x="1048" y="489" font-size="3.5">A17</text><text x="1048" y="493.5" font-size="3.5">A16</text>
<text x="1080" y="582" font-size="4">GND_RF</text>
<text x="1293" y="483" font-size="4.5">VCORF</text><text x="1270" y="477" font-size="5">R315</text>
<text x="1293" y="500" font-size="4.5">VTCXO</text><text x="1270" y="494" font-size="5">R312</text>
<text x="1189" y="494" font-size="5">R314</text>
<text x="1182" y="462" font-size="5">C319</text><text x="1183" y="467">18pF</text><text x="1184" y="472">NM</text>
<text x="1218" y="462" font-size="5">C317</text><text x="1218" y="467">5.6pF</text><text x="1219" y="472">NM</text>
<text x="1252" y="504" font-size="5">C322</text><text x="1252" y="512">1uF</text>
<text x="1188" y="509" font-size="5">R313</text><text x="1212" y="515">VDD</text>
<text x="1183" y="526" font-size="5">C324</text><text x="1185" y="532">1uF</text>
<text x="1226" y="538" font-size="4">VC2</text><text x="1226" y="542.5" font-size="4">VC1</text><text x="1220" y="547.5" font-size="4">PA_EN</text>
<text x="1205" y="560" font-size="4">FM_LNA_EN</text><text x="1199" y="565" font-size="4">AUDIO_PA_EN</text>
<text x="1268" y="562" font-size="5">C336</text><text x="1270" y="568">1nF</text>
<text x="1290" y="573" font-size="4.5">BT_CLK</text>
<text x="1254" y="581" font-size="5">C335</text><text x="1254" y="587">18pF</text>
<text x="1237" y="600" font-size="5" textLength="93">Outside of shielding case</text>
<text x="1206" y="613" font-size="5">Y300</text><text x="1201" y="618" font-size="3">TFX000000000</text><text x="1205" y="625" font-size="5">CL=7.5PF</text>
<text x="1172" y="439" font-size="5.5" textLength="130">R314,R315,C317 close to AVDD28_RF1</text>
<text x="1172" y="445" font-size="5.5" textLength="93">C319 close to AVDD28_RF2</text>
<text x="475" y="758" font-size="4">DRAWING:</text>
<text x="478" y="765" font-size="4">BOARD TL02 MMI V02</text><text x="478" y="769.5" font-size="4">Board tl02 mmi v02</text>
<text x="466" y="779" font-size="4.5" textLength="124">LAST_MODIFIED=Thu Jun 02 15:45:08 2011</text>
<text x="718" y="786" font-size="6" textLength="257">ALL RIGHTS RESERVED.REPRODUCTION AND DISCLOSURE PROHIBITED</text>
<text x="1051" y="729" font-size="3">MODIFIED</text><text x="1077" y="724.5" font-size="3">NAME</text><text x="1089" y="731" font-size="5">SCHEMATIC</text>
<text x="1167" y="725" font-size="3">DATE</text><text x="1157" y="732" font-size="3.6">30/05/2011</text>
<text x="1191" y="729" font-size="3">CHECKED</text><text x="1217" y="724.5" font-size="3">NAME</text><text x="1231" y="731" font-size="5">SCHEMATIC</text>
<text x="1306" y="725" font-size="3">DATE</text><text x="1297" y="732" font-size="3.6">30/05/2011</text>
<text x="1075" y="744" font-size="3.5">TITLE</text>
<text x="1052" y="759" font-size="3.5">Product Name</text><text x="1098" y="758" font-size="5" textLength="100">SCHEMATIC BOARD TL02 MMI V02</text>
<text x="1258" y="751" font-size="5">SMH CO. LTD.</text>
<text x="1255" y="768" font-size="3">PAGE/SHEET</text>
<text x="1077" y="778" font-size="4">P.N.</text>
<text x="1187" y="776" font-size="3">FORMAT</text><text x="1189" y="781" font-size="3">SIZE</text>
<text x="1215" y="791" font-size="3">DOCUMENT NUMBER</text><text x="1276" y="791" font-size="3">TYPE</text><text x="1298" y="791" font-size="3">PART</text><text x="1317" y="791" font-size="3">VERS</text>
<text x="1022" y="786.5" font-size="3">VER</text><text x="1037" y="786.5" font-size="3">APPR</text><text x="1022" y="794" font-size="3">VER.</text><text x="1037" y="794" font-size="3">DATE</text>
<text x="1289" y="802" font-size="3.5">By SHIPWAVE HCG</text>
</g>
<g fill="#222" font-weight="normal">
<text x="740" y="198" font-size="12" textLength="100">PA + SWITCH</text>
<text x="1152" y="249" font-size="8" textLength="86">BATTERY CONVERT</text>
<text x="1152" y="257" font-size="5" font-weight="bold" textLength="80">outside the shielding</text>
<text x="1070" y="471.5" font-size="8" textLength="60">MT6252(4/4)</text>
<text x="790" y="699" font-size="8" textLength="58">SAW FILTER</text>
<text x="1105" y="750" font-size="9">RF</text>
<text x="1190" y="792" font-size="7">A2</text>
<text x="1293" y="768" font-size="8">3 / 10</text>
</g>
<path d="M522,199.5H563M678,315.5H696M902,322.5H920M901,360.5H922M1290,574.5H1308" stroke="#222" stroke-width="0.5"/>
</svg>

<!-- status bar -->
<div class="a" style="left:0;top:835px;width:1521px;height:1px;background:#dfe6ec"></div>
<div class="a" style="left:0;top:836px;width:1521px;height:21px;background:#466b8d"></div>
<div class="a" style="left:0;top:857px;width:1521px;height:2px;background:#bcd3e4"></div>
<div class="a" style="left:1px;top:842px;font:11px/16px 'Liberation Mono',monospace;letter-spacing:-0.6px;color:#141414;white-space:pre">Version:1.0.0.52</div>
<div class="a" style="left:1363px;top:842px;font:11px/16px 'Liberation Mono',monospace;letter-spacing:-0.6px;color:#141414;white-space:pre">Current [TL02_MMI_V02_SCH]</div>
</body></html>
